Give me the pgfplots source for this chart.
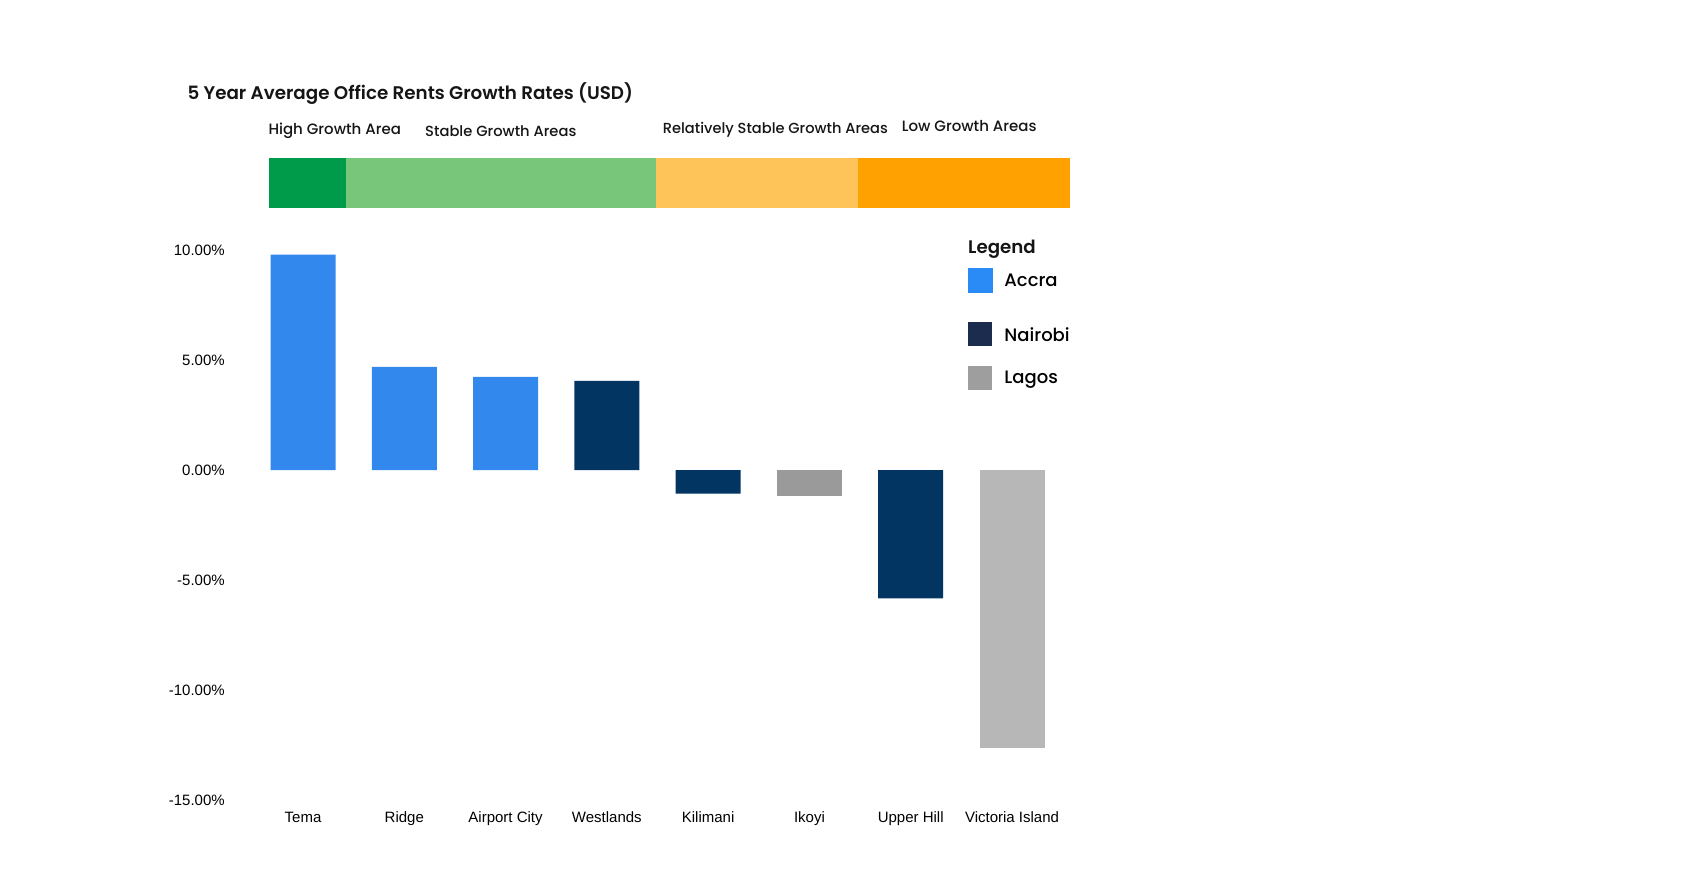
\documentclass[border=0pt]{standalone}
\usepackage{fontspec}
\setmainfont{Liberation Sans}
\newfontfamily\popsb{Poppins SemiBold}
\newfontfamily\popmd{Poppins Medium}
\usepackage{pgfplots}
\pgfplotsset{compat=1.18}
\definecolor{accra}{HTML}{3388EE}
\definecolor{nairobi}{HTML}{033563}
\definecolor{lagosA}{HTML}{9A9A9A}
\definecolor{lagosB}{HTML}{B7B7B7}
\definecolor{accraL}{HTML}{2A8AF6}
\definecolor{nairobiL}{HTML}{1B2C4F}
\definecolor{lagosL}{HTML}{9E9E9E}
\definecolor{bandA}{HTML}{009B4A}
\definecolor{bandB}{HTML}{78C67A}
\definecolor{bandC}{HTML}{FEC45A}
\definecolor{bandD}{HTML}{FFA101}
\definecolor{txt}{HTML}{151515}
\begin{document}
\begin{tikzpicture}
\path[use as bounding box, fill=white] (0pt,0pt) rectangle (1684pt,892pt);
\begin{axis}[
  at={(252.36pt,91.5pt)}, anchor=south west,
  scale only axis, width=810.3pt, height=550.5pt,
  xmin=-0.5, xmax=7.5, ymin=-15, ymax=10,
  clip=false,
  axis line style={draw=none},
  tick style={draw=none},
  major tick length=0pt,
  xtick={0,1,2,3,4,5,6,7},
  xticklabels={Tema,Ridge,Airport City,Westlands,Kilimani,Ikoyi,Upper Hill,Victoria Island},
  ytick={-15,-10,-5,0,5,10},
  yticklabels={-15.00\%,-10.00\%,-5.00\%,0.00\%,5.00\%,10.00\%},
  tick label style={font=\fontsize{15}{18}\selectfont, text=black},
  yticklabel style={anchor=east, inner sep=0pt, xshift=-27.4pt},
  xticklabel style={anchor=base, inner sep=0pt, yshift=-21.6pt},
  legend style={at={(axis description cs:0.8832,0.9673)}, anchor=north west,
    draw=none, fill=none, inner sep=0pt, outer sep=0pt,
    row sep=19.3pt, column sep=12pt,
    nodes={inner sep=0pt, text=black},
    font=\popmd\fontsize{18}{20}\selectfont},
  legend cell align=left,
  legend image code/.code={\fill[#1, draw=none] (0pt,-11.4pt) rectangle (24pt,12.6pt);},
]
% category bands
\addplot[fill=bandA, draw=none, forget plot] coordinates {(-0.338,11.91) (0.425,11.91) (0.425,14.18) (-0.338,14.18)} -- cycle;
\addplot[fill=bandB, draw=none, forget plot] coordinates {(0.425,11.91) (3.49,11.91) (3.49,14.18) (0.425,14.18)} -- cycle;
\addplot[fill=bandC, draw=none, forget plot] coordinates {(3.49,11.91) (5.484,11.91) (5.484,14.18) (3.49,14.18)} -- cycle;
\addplot[fill=bandD, draw=none, forget plot] coordinates {(5.484,11.91) (7.572,11.91) (7.572,14.18) (5.484,14.18)} -- cycle;
% bars
\addplot[ybar, bar width=0.6417, bar shift=0pt, fill=accra, draw=none, forget plot] coordinates {(0,9.79) (1,4.69) (2,4.24)};
\addplot[ybar, bar width=0.6417, bar shift=0pt, fill=nairobi, draw=none, forget plot] coordinates {(3,4.06) (4,-1.06) (6,-5.82)};
\addplot[ybar, bar width=0.6417, bar shift=0pt, fill=lagosA, draw=none, forget plot] coordinates {(5,-1.18)};
\addplot[ybar, bar width=0.6417, bar shift=0pt, fill=lagosB, draw=none, forget plot] coordinates {(7,-12.6)};
% legend
\addlegendimage{legend image code/.code={\fill[accraL] (0pt,-11.4pt) rectangle (24pt,12.6pt); \path (0pt,-22pt);}}
\addlegendentry{Accra}
\addlegendimage{fill=nairobiL}
\addlegendentry{Nairobi}
\addlegendimage{fill=lagosL}
\addlegendentry{Lagos}
\end{axis}
\begin{scope}[every node/.style={inner sep=0pt, anchor=base west, text=txt}]
\node[font=\popsb\fontsize{18.3}{22}\selectfont] at (187.3pt,792.7pt) {5 Year Average Office Rents Growth Rates (USD)};
\node[font=\popmd\fontsize{15}{18}\selectfont] at (268.3pt,757.7pt) {High Growth Area};
\node[font=\popmd\fontsize{14.7}{18}\selectfont] at (425pt,755.3pt) {Stable Growth Areas};
\node[font=\popmd\fontsize{14.6}{18}\selectfont] at (662.7pt,758.7pt) {Relatively Stable Growth Areas};
\node[font=\popmd\fontsize{15}{18}\selectfont] at (901.7pt,760.3pt) {Low Growth Areas};
\node[font=\popsb\fontsize{18.2}{22}\selectfont] at (968pt,638.7pt) {Legend};
\end{scope}
\end{tikzpicture}
\end{document}
